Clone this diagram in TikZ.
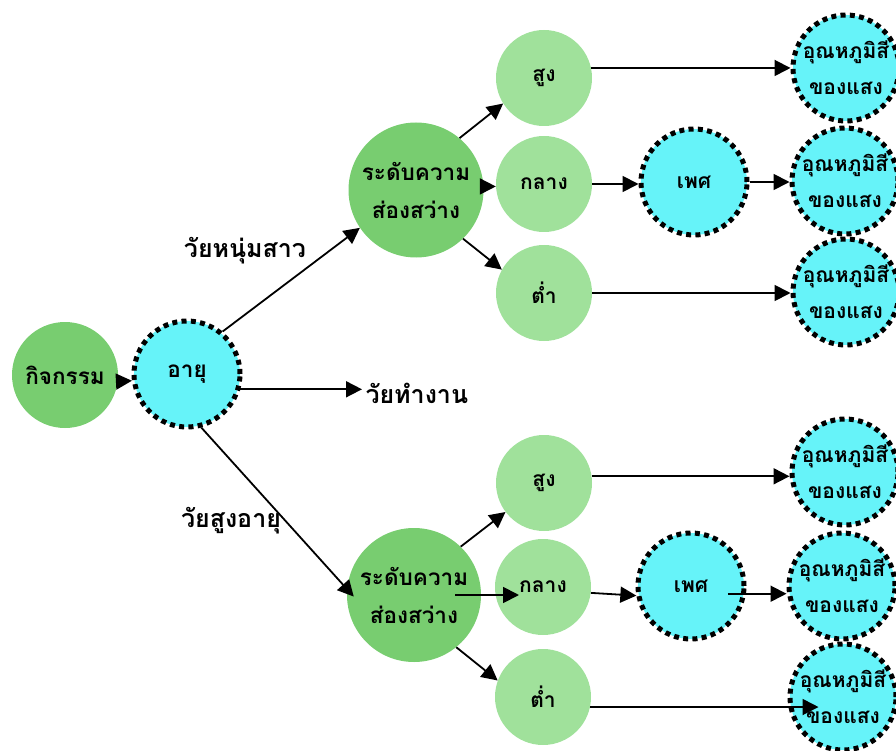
\documentclass[tikz,border=0pt]{standalone}
\usepackage{fontspec}
\newfontfamily\thaifont[Script=Thai]{Loma}
\usetikzlibrary{arrows.meta}
\definecolor{leafgreen}{RGB}{120,205,112}
\definecolor{palegreen}{RGB}{160,225,155}
\definecolor{skycyan}{RGB}{102,243,249}

\begin{document}
\begin{tikzpicture}[x=1pt, y=-1pt,
  bigtext/.style={font=\thaifont\bfseries\fontsize{22.5}{38}\selectfont},
  smalltext/.style={font=\thaifont\bfseries\fontsize{21}{36}\selectfont},
  agelabel/.style={font=\thaifont\bfseries\fontsize{25}{30}\selectfont},
  darknode/.style={circle, fill=leafgreen, inner sep=0pt, align=center, bigtext},
  palenode/.style={circle, fill=palegreen, minimum size=96pt, inner sep=0pt, smalltext},
  ringnode/.style={circle, fill=skycyan, draw=black, line width=5pt,
    dash pattern=on 5pt off 4.3pt, minimum size=106pt, inner sep=0pt, align=center},
  arr/.style={-{Triangle[length=16pt,width=16pt]}, line width=1.8pt}
]
\useasboundingbox (0,0) rectangle (896,751);

% first two steps
\node[darknode, minimum size=106pt] (activity) at (65,375) {กิจกรรม};
\node[ringnode, bigtext] (age) at (187,374) {อายุ};

% age groups
\node[agelabel] (youth) at (245,251) {วัยหนุ่มสาว};
\node[agelabel, anchor=west] (work) at (362,393) {วัยทำงาน};
\node[agelabel] (elder) at (231,521) {วัยสูงอายุ};

% upper branch
\node[darknode, minimum size=135pt] (lightTop) at (416,190) {ระดับความ\\ส่องสว่าง};
\node[palenode] (highTop) at (544,78) {สูง};
\node[palenode] (midTop) at (544,184) {กลาง};
\node[palenode] (lowTop) at (544,293) {ต่ำ};
\node[ringnode, smalltext] (sexTop) at (694,182) {เพศ};
\node[ringnode, smalltext] (tempTop1) at (846,68) {อุณหภูมิสี\\ของแสง};
\node[ringnode, smalltext] (tempTop2) at (845,181) {อุณหภูมิสี\\ของแสง};
\node[ringnode, smalltext] (tempTop3) at (846,292) {อุณหภูมิสี\\ของแสง};

% lower branch
\node[darknode, minimum size=134pt] (lightBot) at (414,595) {ระดับความ\\ส่องสว่าง};
\node[palenode] (highBot) at (544,483) {สูง};
\node[palenode] (midBot) at (543,587) {กลาง};
\node[palenode] (lowBot) at (543,697) {ต่ำ};
\node[ringnode, smalltext] (sexBot) at (691,586) {เพศ};
\node[ringnode, smalltext] (tempBot1) at (845,472) {อุณหภูมิสี\\ของแสง};
\node[ringnode, smalltext] (tempBot2) at (842,586) {อุณหภูมิสี\\ของแสง};
\node[ringnode, smalltext] (tempBot3) at (843,697) {อุณหภูมิสี\\ของแสง};

% arrows
\draw[arr, shorten <=-12pt] (activity.-7) -- (age.187);
\draw[arr] (age.-16) -- (age.-16 -| work.west);
\draw[arr] (age.50) -- (lightTop.214);
\draw[arr, shorten >=-10pt] (age.-75) -- (lightBot.175);

\draw[arr] (lightTop.50) -- (highTop.212);
\draw[arr] (lightTop.3) -- (lightTop.3 -| midTop.west);
\draw[arr] (lightTop.-46) -- (lowTop.151);
\draw[arr] (highTop.12) -- (highTop.12 -| tempTop1.west);
\draw[arr] (midTop.east) -- (midTop.east -| sexTop.west);
\draw[arr] (sexTop.east) -- (sexTop.east -| tempTop2.west);
\draw[arr] (lowTop.east) -- (lowTop.east -| tempTop3.west);

\draw[arr] (lightBot.46) -- (highBot.217);
\draw[arr, shorten >=24pt] ([xshift=41pt]lightBot.center) -- (lightBot.center -| midBot.center);
\draw[arr] (lightBot.-51) -- (lowBot.160);
\draw[arr] (highBot.8) -- (highBot.8 -| tempBot1.west);
\draw[arr] (midBot.-7) -- (sexBot.190);
\draw[arr, shorten <=-18pt] (sexBot.-8) -- (sexBot.-8 -| tempBot2.west);
\draw[arr, shorten >=-31pt] (lowBot.-12) -- (lowBot.-12 -| tempBot3.west);
\end{tikzpicture}
\end{document}
